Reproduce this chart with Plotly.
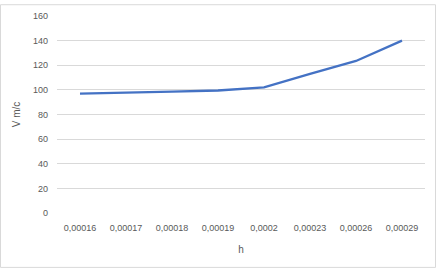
import plotly.graph_objects as go

categories = ["0,00016", "0,00017", "0,00018", "0,00019", "0,0002", "0,00023", "0,00026", "0,00029"]
values = [97, 97.5, 98.5, 99.5, 102, 113, 123.5, 140]
y_ticks = [0, 20, 40, 60, 80, 100, 120, 140, 160]

W, H = 436, 269
ml, mr, mt, mb = 57, 11, 12, 56

fig = go.Figure()
fig.add_trace(go.Scatter(
    x=categories, y=values, mode="lines",
    line=dict(color="#4472C4", width=2.3),
    hoverinfo="skip", showlegend=False,
))

pw = W - ml - mr
ph = H - mt - mb
fig.add_shape(type="rect", xref="paper", yref="paper",
              x0=-(ml - 0.5) / pw, x1=1 + (mr - 0.5) / pw,
              y0=-(mb - 0.5) / ph, y1=1 + (mt - 0.5) / ph,
              line=dict(color="#D9D9D9", width=1), layer="below")

font = dict(family="Liberation Sans, Arial, sans-serif", size=9, color="#595959")
fig.update_layout(
    width=W, height=H,
    margin=dict(l=ml, r=mr, t=mt, b=mb),
    paper_bgcolor="white", plot_bgcolor="white",
    font=font,
    xaxis=dict(type="category", showgrid=False, showline=False, zeroline=False,
               ticks="", tickfont=font, ticklabelstandoff=8,
               title=dict(text="h", font=dict(family=font["family"], size=10, color="#595959"), standoff=13),
               range=[-0.5, len(categories) - 0.5]),
    yaxis=dict(range=[0, 160], tickvals=y_ticks, showgrid=True, gridcolor="#D9D9D9",
               gridwidth=1, zeroline=False, showline=False, ticks="", tickfont=font,
               ticklabelstandoff=8,
               title=dict(text="V m/c", font=dict(family=font["family"], size=10, color="#595959"), standoff=10)),
)
fig.write_html("out.html")
